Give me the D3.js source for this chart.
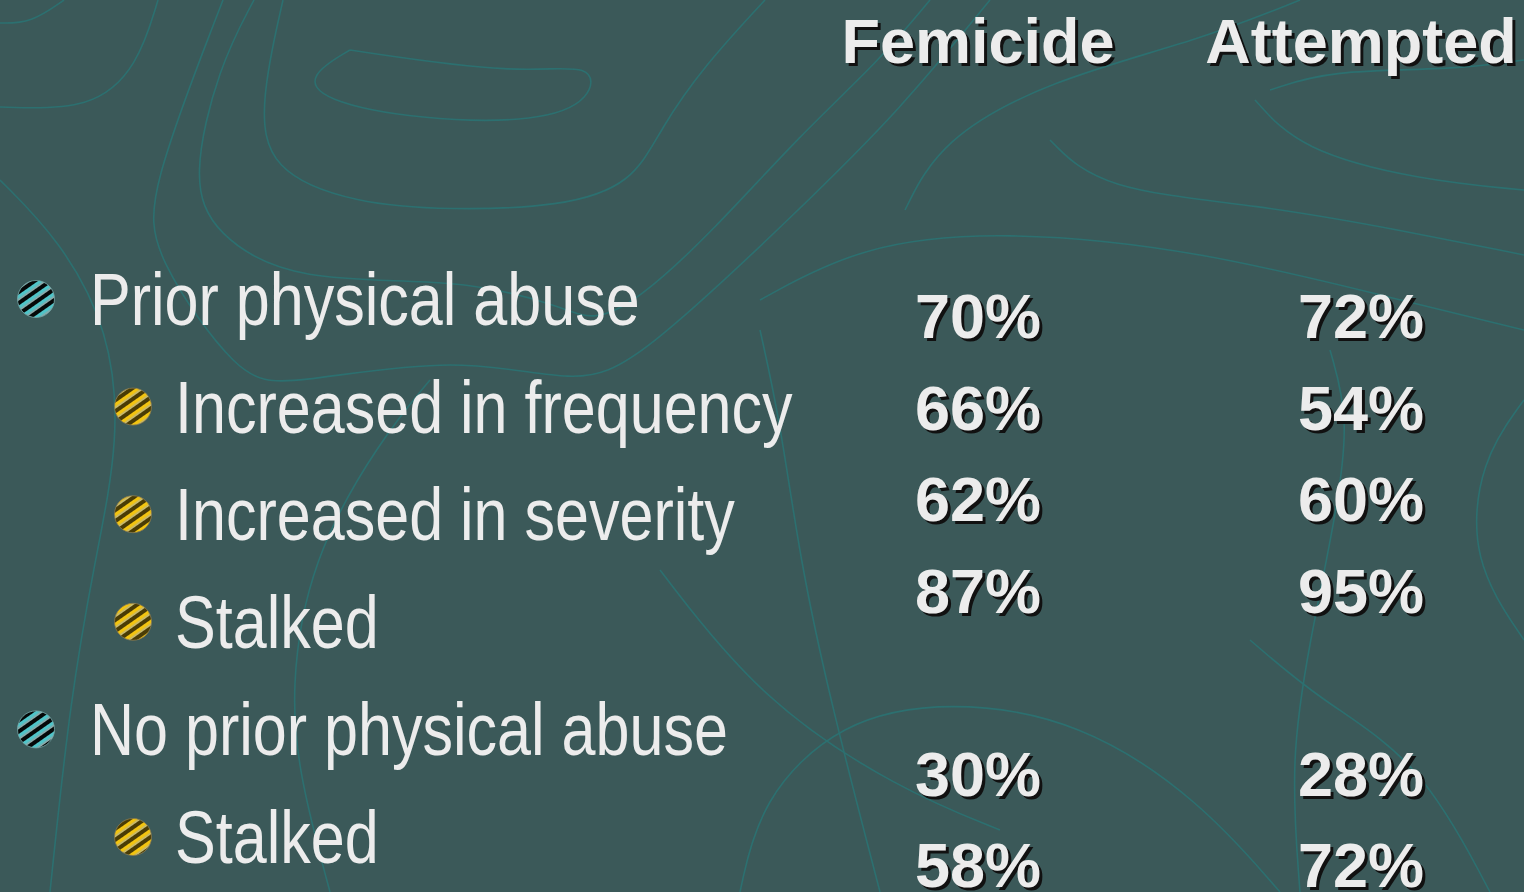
<!DOCTYPE html>
<html>
<head>
<meta charset="utf-8">
<script src="https://cdn.jsdelivr.net/npm/d3@7"></script>
<style>
  html, body { margin: 0; padding: 0; background: #3b5959; overflow: hidden; }
</style>
</head>
<body>
<div id="slide"></div>
<script>
// Table data
var columns = ["Femicide", "Attempted"];
var labels = ["Prior physical abuse", "Increased in frequency", "Increased in severity", "Stalked", "No prior physical abuse", "Stalked"];
var levels = [1, 2, 2, 2, 1, 2];
var femicide = [70, 66, 62, 87, 30, 58];
var attempted = [72, 54, 60, 95, 28, 72];

var svgWidth = 1524;
var svgHeight = 892;

var svg = d3.select("#slide")
  .append("svg")
  .attr("width", svgWidth)
  .attr("height", svgHeight);

var defs = svg.append("defs");

// striped bullet fills
function stripes(id, base, stripe, light) {
  var p = defs.append("pattern")
    .attr("id", id)
    .attr("patternUnits", "userSpaceOnUse")
    .attr("width", 9)
    .attr("height", 9)
    .attr("patternTransform", "rotate(-35)");
  p.append("rect").attr("width", 9).attr("height", 9).attr("fill", base);
  p.append("rect").attr("y", 0).attr("width", 9).attr("height", 3.5).attr("fill", stripe);
  p.append("rect").attr("y", 3.5).attr("width", 9).attr("height", 1.2).attr("fill", light);
}
stripes("bul1", "#050808", "#4fc4c8", "#c8f4f4");
stripes("bul2", "#4a3c05", "#f2c410", "#fff2a0");

// background
svg.append("rect")
  .attr("width", svgWidth)
  .attr("height", svgHeight)
  .attr("fill", "#3b5959");

// decorative contour lines
var contours = [
  [[0, 23], [31, 23], [64, 0]],
  [[158, 0], [138, 66], [92, 110], [0, 107]],
  [[283, 0], [260, 102], [268, 171], [357, 204], [449, 210], [561, 207], [633, 184], [661, 128], [704, 66], [765, 0]],
  [[254, 0], [219, 66], [191, 179], [214, 235], [296, 283], [459, 278], [561, 306], [592, 322], [638, 301], [714, 230], [800, 135], [880, 60], [930, 0]],
  [[223, 0], [148, 194], [153, 255], [240, 380], [286, 385], [459, 355], [577, 385], [638, 362], [800, 209], [900, 110], [990, 0]],
  [[350, 50], [520, 75], [595, 62], [592, 100], [540, 122], [420, 120], [320, 100], [308, 75], [350, 50]],
  [[0, 180], [60, 240], [110, 330], [120, 440], [95, 560], [70, 700], [50, 892]],
  [[905, 210], [940, 140], [1050, 80], [1200, 40], [1300, 0]],
  [[1050, 140], [1100, 190], [1260, 205], [1400, 230], [1524, 255]],
  [[1270, 90], [1330, 70], [1450, 70], [1524, 60]],
  [[1255, 100], [1300, 150], [1420, 180], [1524, 190]],
  [[760, 300], [860, 245], [1000, 230], [1200, 250], [1400, 300], [1524, 330]],
  [[760, 330], [780, 420], [800, 560], [830, 700], [880, 892]],
  [[1330, 350], [1350, 420], [1335, 520], [1310, 640], [1290, 760], [1300, 892]],
  [[1524, 400], [1480, 460], [1470, 560], [1524, 640]],
  [[1250, 640], [1320, 700], [1420, 760], [1490, 892]],
  [[740, 892], [760, 800], [840, 720], [950, 700], [1080, 720], [1200, 800], [1280, 892]],
  [[330, 892], [300, 780], [290, 690], [310, 560], [380, 440], [430, 380]],
  [[660, 570], [760, 700], [900, 790], [1000, 830]]
];

var contourLine = d3.line().curve(d3.curveBasis);

svg.append("g")
  .selectAll("path")
  .data(contours)
  .enter()
  .append("path")
  .attr("d", contourLine)
  .attr("fill", "none")
  .attr("stroke", "#2c7070")
  .attr("stroke-width", 1.6);

// scales
var xCol = d3.scalePoint()
  .domain(columns)
  .range([978, 1361]);

var yLabel = d3.scaleLinear()
  .domain([0, labels.length - 1])
  .range([325, 863]);

var yValue = d3.scaleLinear()
  .domain([0, 6])
  .range([338, 887]);

var xText = d3.scaleOrdinal().domain([1, 2]).range([90, 175]);
var xBullet = d3.scaleOrdinal().domain([1, 2]).range([36, 133]);

var textColor = "#ececec";
var boldFont = "'Liberation Sans', Arial, Helvetica, sans-serif";

// shadowed bold text
function shadowText(g, x, y, str) {
  g.append("text")
    .attr("x", x + 3).attr("y", y + 3)
    .attr("text-anchor", "middle")
    .attr("font-family", boldFont)
    .attr("font-weight", "bold")
    .attr("font-size", 63)
    .attr("fill", "#111")
    .text(str);
  g.append("text")
    .attr("x", x).attr("y", y)
    .attr("text-anchor", "middle")
    .attr("font-family", boldFont)
    .attr("font-weight", "bold")
    .attr("font-size", 63)
    .attr("fill", textColor)
    .text(str);
}

// column headers
var headerGroup = svg.append("g");
columns.forEach(function(c) {
  shadowText(headerGroup, xCol(c), 63, c);
});

// row labels with bullets
var rowGroup = svg.append("g")
  .selectAll("g")
  .data(labels)
  .enter()
  .append("g");

rowGroup.append("circle")
  .attr("cx", (d, i) => xBullet(levels[i]))
  .attr("cy", (d, i) => yLabel(i) - 26)
  .attr("r", 18.5)
  .attr("fill", (d, i) => levels[i] == 1 ? "url(#bul1)" : "url(#bul2)")
  .attr("stroke", (d, i) => levels[i] == 1 ? "#7aa" : "#887a50")
  .attr("stroke-width", 0.8);

// narrow sans: condense regular sans horizontally
rowGroup.append("text")
  .attr("transform", (d, i) => `translate(${xText(levels[i])}, ${yLabel(i)}) scale(0.825, 1)`)
  .attr("font-family", "'Liberation Sans', Arial, sans-serif")
  .attr("font-size", 74)
  .attr("fill", textColor)
  .text(d => d);

// percentages
var valueGroup = svg.append("g");
var series = [femicide, attempted];
series.forEach(function(vals, c) {
  vals.forEach(function(v, i) {
    var slot = i < 4 ? i : i + 1;
    shadowText(valueGroup, xCol(columns[c]), yValue(slot), v + "%");
  });
});
</script>
</body>
</html>
